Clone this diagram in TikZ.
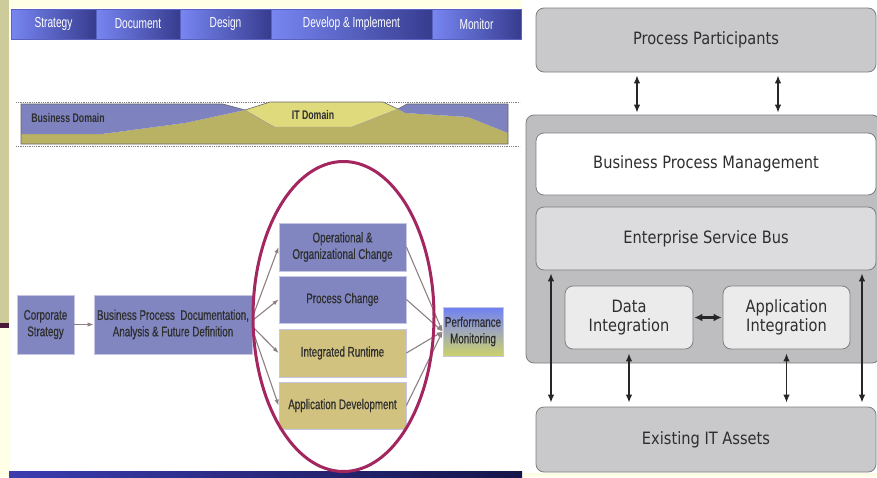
\documentclass[tikz,border=0pt]{standalone}
\usepackage{fontspec}
\setmainfont{Liberation Sans}
\newfontfamily\narrowfont[FakeStretch=0.7]{Liberation Sans}
\newfontfamily\narrowheavy[FakeStretch=0.7,FakeBold=0.5]{Liberation Sans}
\newfontfamily\tahfont[FakeStretch=0.86]{DejaVu Sans}
\usetikzlibrary{arrows.meta,shapes.geometric,calc}
\definecolor{cream}{HTML}{FFFFE6}
\definecolor{khakistrip}{HTML}{CDCB99}
\definecolor{stripline}{HTML}{4A1838}
\definecolor{hdrlight}{HTML}{7886F2}
\definecolor{hdrdark}{HTML}{363C8E}
\definecolor{hdrline}{HTML}{5A62C0}
\definecolor{periw}{HTML}{8186C0}
\definecolor{periwline}{HTML}{C4C6E4}
\definecolor{bandblue}{HTML}{7E83C0}
\definecolor{olive}{HTML}{B9B163}
\definecolor{ityellow}{HTML}{DFDB7C}
\definecolor{khakibox}{HTML}{D1C27F}
\definecolor{flowarrow}{HTML}{8E8082}
\definecolor{ringcol}{HTML}{A3265F}
\definecolor{txtdark}{HTML}{2E2E2E}
\definecolor{pmtop}{HTML}{6F80F2}
\definecolor{pmmid}{HTML}{A2AAB8}
\definecolor{pmbot}{HTML}{CBD26A}
\definecolor{gbox}{HTML}{C9C9CB}
\definecolor{gcont}{HTML}{BEBEC1}
\definecolor{gesb}{HTML}{DCDCDE}
\definecolor{gint}{HTML}{EBEBEC}
\definecolor{gborder}{HTML}{7E7E80}
\definecolor{stripA}{HTML}{3C3CB0}
\definecolor{stripB}{HTML}{15154A}
\begin{document}
\begin{tikzpicture}[x=1pt,y=-1pt,
  hdr/.style={left color=hdrlight, right color=hdrdark, draw=hdrline, line width=.6pt,
    text=white, font=\narrowfont\fontsize{14.5}{14.5}\selectfont, inner sep=0, minimum height=30pt},
  bandtext/.style={text=txtdark, font=\narrowfont\bfseries\fontsize{12.5}{12.5}\selectfont, inner sep=0},
  flowb/.style={fill=periw, draw=periwline, line width=.8pt, text=txtdark,
    font=\narrowheavy\fontsize{14}{16.5}\selectfont, align=center, inner sep=0},
  flowk/.style={flowb, fill=khakibox},
  farr/.style={draw=flowarrow, line width=1.1pt, -{Latex[length=6pt,width=4.5pt]}},
  rbox/.style={draw=gborder, line width=.8pt, rounded corners=8pt, text=txtdark,
    font=\tahfont\fontsize{17}{19.5}\selectfont, align=center, inner sep=0},
  darr/.style={{Latex[length=8pt,width=6.5pt]}-{Latex[length=8pt,width=6.5pt]}, line width=1.3pt, draw=black!85}]
\clip (0,0) rectangle (877,477);
% backgrounds
\fill[cream] (0,0) rectangle (877,477);
\fill[khakistrip] (0,0) rectangle (9,323);
\fill[stripline] (0,323) rectangle (9,328);
\fill[white] (10,8) rectangle (521,471);
\fill[white] (521,0) rectangle (877,473);
\shade[left color=stripA, right color=stripB] (9,471) rectangle (522,477);
% header
\node[hdr, minimum width=85pt] (h1) at (53.5,24) {Strategy};
\node[hdr, minimum width=84pt] (h2) at (138,24) {Document};
\node[hdr, minimum width=91pt] (h3) at (225.5,24) {Design};
\node[hdr, minimum width=161pt] (h4) at (351.5,24) {Develop \& Implement};
\node[hdr, minimum width=89pt] (h5) at (476.5,24) {Monitor};
% domain band
\draw[gray, densely dotted, line width=.8pt] (16,102) -- (520,102);
\draw[gray, densely dotted, line width=.8pt] (16,146) -- (520,146);
\fill[olive] (21,134) -- (102,134) -- (185,123) -- (245,110) -- (275,127) -- (352,127) -- (398,109) -- (405,113) -- (468,117) -- (508,133) -- (508,144) -- (21,144) -- cycle;
\fill[bandblue] (21,104) -- (223,104) -- (245,110) -- (185,123) -- (102,134) -- (21,134) -- cycle;
\fill[bandblue] (398,109) -- (407,104) -- (508,104) -- (508,133) -- (468,117) -- (405,113) -- cycle;
\fill[ityellow] (245,110) -- (270,102) -- (383,102) -- (398,109) -- (352,127) -- (275,127) -- cycle;
\draw[black!60, line width=.6pt] (21,144) -- (21,104) -- (223,104) -- (245,110) -- (270,102) -- (383,102) -- (398,109) -- (407,104) -- (508,104) -- (508,144) -- cycle;
\draw[black!40, line width=.4pt] (245,110) -- (267,123) -- (275,127) -- (352,127) -- (398,109);
\node[bandtext] (bd) at (68,118) {Business Domain};
\node[bandtext] (itd) at (313,115) {IT Domain};
% flow
\node[flowb, minimum width=57pt, minimum height=59pt] (cs) at (45.5,324.5) {Corporate\\Strategy};
\node[flowb, minimum width=158pt, minimum height=59pt] (bp) at (173,324.5) {Business Process\ \ Documentation,\\Analysis \& Future Definition};
\node[flowb, minimum width=127pt, minimum height=48pt] (op) at (342.5,247) {Operational \&\\Organizational Change};
\node[flowb, minimum width=127pt, minimum height=47pt] (pc) at (342.5,299.5) {Process Change};
\node[flowk, minimum width=127pt, minimum height=48pt] (ir) at (342.5,353) {Integrated Runtime};
\node[flowk, minimum width=127pt, minimum height=47pt] (ad) at (342.5,405.5) {Application Development};
\node[flowb, top color=pmtop, bottom color=pmbot, middle color=pmmid, minimum width=60pt, minimum height=49pt] (pm) at (473,331.5) {Performance\\Monitoring};
\draw[farr] (cs) -- (bp);
\draw[farr] ([yshift=7pt]bp.east) -- (op.west);
\draw[farr] ([yshift=4pt]bp.east) -- (pc.west);
\draw[farr] ([yshift=-2pt]bp.east) -- (ir.west);
\draw[farr] ([yshift=-5pt]bp.east) -- (ad.west);
\draw[farr] (op.east) -- (pm.west);
\draw[farr] (pc.east) -- (pm.west);
\draw[farr] (ir.east) -- (pm.west);
\draw[farr] (ad.east) -- (pm.west);
\node[draw=ringcol, line width=3pt, ellipse, minimum width=181pt, minimum height=310pt, inner sep=0] (ring) at (343.5,316.5) {};
% right architecture
\node[rbox, fill=gbox, minimum width=340pt, minimum height=64pt] (pp) at (706,40) {Process Participants};
\node[rbox, fill=gcont, minimum width=354pt, minimum height=248pt] (cont) at (703,239) {};
\node[rbox, fill=white, minimum width=340pt, minimum height=62pt] (bpm) at (706,164) {Business Process Management};
\node[rbox, fill=gesb, minimum width=340pt, minimum height=63pt] (esb) at (706,238.5) {Enterprise Service Bus};
\node[rbox, fill=gint, minimum width=128pt, minimum height=63pt] (di) at (629,317.5) {Data\\Integration};
\node[rbox, fill=gint, minimum width=127pt, minimum height=63pt] (ai) at (786.5,317.5) {Application\\Integration};
\node[rbox, fill=gbox, minimum width=340pt, minimum height=65pt] (eit) at (706,439.5) {Existing IT Assets};
\coordinate (ax1) at (637,0);
\coordinate (ax2) at (778,0);
\coordinate (bx1) at (551,0);
\coordinate (bx2) at (862,0);
\draw[darr, shorten <=3pt, shorten >=2pt] (pp.south -| ax1) -- (cont.north -| ax1);
\draw[darr, shorten <=3pt, shorten >=2pt] (pp.south -| ax2) -- (cont.north -| ax2);
\draw[darr, shorten <=3pt, shorten >=4pt] (esb.south -| bx1) -- (eit.north -| bx1);
\draw[darr, shorten <=3pt, shorten >=4pt] (esb.south -| bx2) -- (eit.north -| bx2);
\draw[darr, shorten <=4pt, shorten >=4pt] (di.south) -- (di.south |- eit.north);
\draw[darr, shorten <=4pt, shorten >=4pt] (ai.south) -- (ai.south |- eit.north);
\draw[{Latex[length=8pt,width=8pt]}-{Latex[length=8pt,width=8pt]}, line width=2.2pt, draw=black!85, shorten <=1pt, shorten >=1pt] (di.east) -- (ai.west);
\end{tikzpicture}
\end{document}
